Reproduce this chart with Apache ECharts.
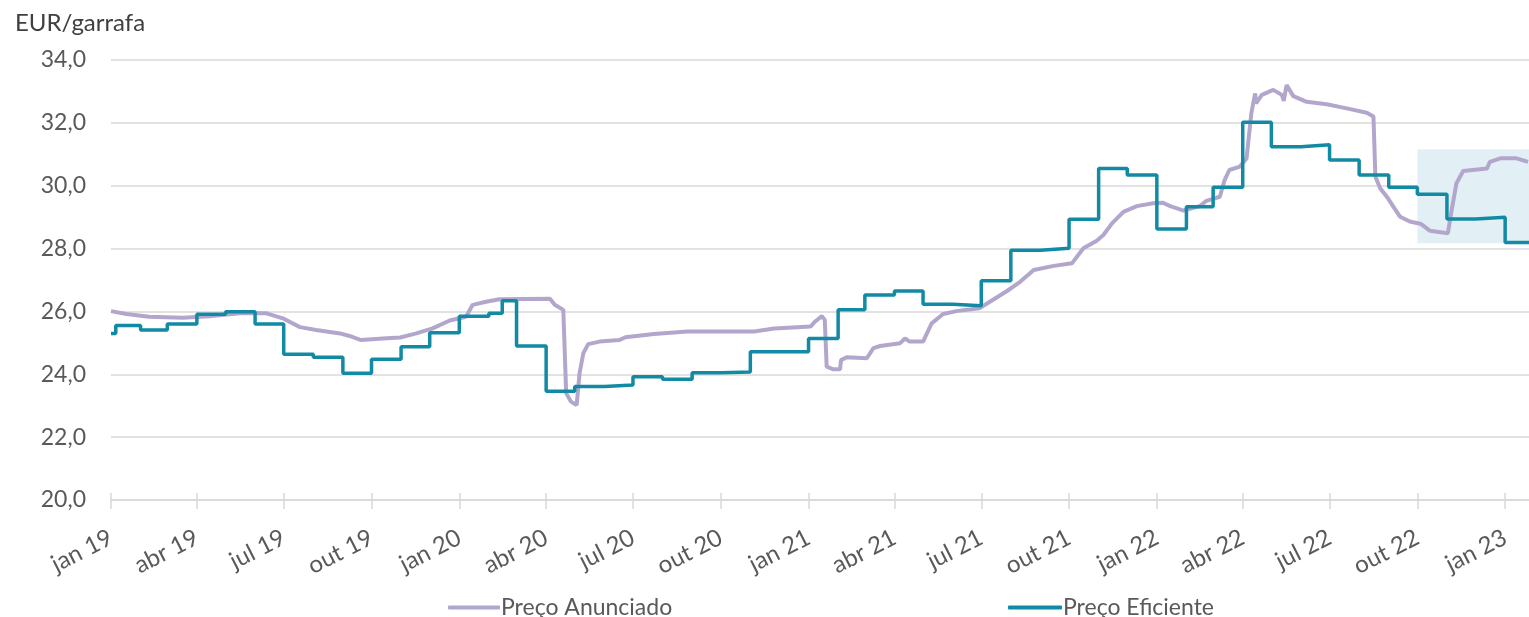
<!DOCTYPE html>
<html>
<head>
<meta charset="utf-8">
<script src="https://cdn.jsdelivr.net/npm/echarts@6/dist/echarts.min.js"></script>
<style>
html,body{margin:0;padding:0;background:#fff;}
#chart{width:1529px;height:617px;}
</style>
</head>
<body>
<div id="chart"></div>
<script>
// ---- Data ----
const unitLabel = 'EUR/garrafa';
const seriesNames = ['Preço Anunciado', 'Preço Eficiente'];

const anunciadoDates = ['2019-01-01','2019-01-17','2019-02-10','2019-03-17','2019-04-14','2019-05-16','2019-06-13','2019-06-30','2019-07-18','2019-08-04','2019-08-29','2019-09-08','2019-09-20','2019-10-13','2019-10-31','2019-11-17','2019-12-04','2019-12-22','2020-01-08','2020-01-15','2020-01-29','2020-02-12','2020-04-05','2020-04-10','2020-04-19','2020-04-22','2020-04-27','2020-05-03','2020-05-06','2020-05-10','2020-05-15','2020-05-27','2020-06-17','2020-06-23','2020-07-23','2020-08-27','2020-10-15','2020-11-05','2020-11-26','2021-01-03','2021-01-08','2021-01-15','2021-01-18','2021-01-20','2021-01-27','2021-02-03','2021-02-04','2021-02-10','2021-03-03','2021-03-10','2021-03-17','2021-04-07','2021-04-12','2021-04-17','2021-05-01','2021-05-10','2021-05-22','2021-06-05','2021-06-29','2021-07-10','2021-07-28','2021-08-11','2021-08-25','2021-09-15','2021-10-04','2021-10-16','2021-10-30','2021-11-06','2021-11-15','2021-11-27','2021-12-11','2021-12-28','2022-01-07','2022-01-15','2022-01-29','2022-02-15','2022-02-22','2022-03-08','2022-03-13','2022-03-18','2022-03-29','2022-04-05','2022-04-10','2022-04-14','2022-04-15','2022-04-21','2022-05-03','2022-05-12','2022-05-14','2022-05-17','2022-05-24','2022-06-07','2022-06-28','2022-07-19','2022-08-09','2022-08-16','2022-08-18','2022-08-23','2022-08-30','2022-09-06','2022-09-13','2022-09-23','2022-10-05','2022-10-14','2022-11-02','2022-11-06','2022-11-11','2022-11-18','2022-12-13','2022-12-16','2022-12-27','2023-01-13','2023-01-25'];
const anunciadoValues = [26.01,25.92,25.83,25.80,25.85,25.94,25.94,25.78,25.50,25.41,25.30,25.22,25.09,25.14,25.17,25.30,25.46,25.71,25.83,26.21,26.31,26.39,26.40,26.21,26.05,23.40,23.13,23.02,24.03,24.67,24.96,25.04,25.09,25.18,25.28,25.36,25.36,25.36,25.46,25.52,25.68,25.85,25.73,24.24,24.16,24.16,24.45,24.54,24.51,24.83,24.90,24.99,25.14,25.04,25.04,25.62,25.92,26.01,26.10,26.31,26.65,26.95,27.32,27.45,27.53,28.01,28.25,28.43,28.80,29.17,29.35,29.44,29.46,29.35,29.21,29.35,29.52,29.65,30.18,30.50,30.61,30.87,32.30,32.94,32.62,32.89,33.05,32.89,32.70,33.20,32.85,32.67,32.59,32.46,32.32,32.20,30.29,29.92,29.65,29.33,29.01,28.86,28.78,28.57,28.49,29.23,30.08,30.47,30.55,30.76,30.87,30.87,30.76];

const eficienteDates = ['2019-01-01','2019-01-06','2019-02-01','2019-03-01','2019-04-01','2019-05-01','2019-06-01','2019-07-01','2019-08-01','2019-09-01','2019-10-01','2019-11-01','2019-12-01','2020-01-01','2020-02-01','2020-02-15','2020-03-01','2020-04-01','2020-05-01','2020-06-01','2020-07-01','2020-08-01','2020-09-01','2020-10-01','2020-11-01','2020-12-01','2021-01-01','2021-02-01','2021-03-01','2021-04-01','2021-05-01','2021-06-01','2021-07-01','2021-08-01','2021-09-01','2021-10-01','2021-11-01','2021-12-01','2022-01-01','2022-02-01','2022-03-01','2022-04-01','2022-05-01','2022-06-01','2022-07-01','2022-08-01','2022-09-01','2022-10-01','2022-11-01','2022-12-01','2023-01-01','2023-01-26'];
const eficienteValues = [25.30,25.55,25.41,25.60,25.91,25.99,25.60,24.64,24.54,24.03,24.48,24.88,25.32,25.85,25.94,26.34,24.90,23.46,23.61,23.66,23.92,23.84,24.05,24.07,24.72,24.72,25.14,26.05,26.52,26.65,26.23,26.18,26.98,27.95,28.01,28.93,30.55,30.34,28.62,29.33,29.95,32.02,31.24,31.30,30.82,30.34,29.95,29.73,28.94,29.00,28.19,28.19];

const tickDates = ['2019-01-01','2019-04-01','2019-07-01','2019-10-01','2020-01-01','2020-04-01','2020-07-01','2020-10-01','2021-01-01','2021-04-01','2021-07-01','2021-10-01','2022-01-01','2022-04-01','2022-07-01','2022-10-01','2023-01-01'];
const tickLabels = ['jan 19','abr 19','jul 19','out 19','jan 20','abr 20','jul 20','out 20','jan 21','abr 21','jul 21','out 21','jan 22','abr 22','jul 22','out 22','jan 23'];

const xStart = '2019-01-01';
const xEnd = '2023-01-26';
const yMin = 20, yMax = 34, yStep = 2;

const highlightX = ['2022-10-01', '2023-01-26'];
const highlightY = [28.17, 31.16];

// ---- Build ----
const ts = d => new Date(d + 'T00:00:00Z').getTime();
const tickTs = tickDates.map(ts);
const labelMap = {};
tickTs.forEach((t, i) => labelMap[t] = tickLabels[i]);

const anunciado = anunciadoDates.map((d, i) => [ts(d), anunciadoValues[i]]);
const eficiente = eficienteDates.map((d, i) => [ts(d), eficienteValues[i]]);

const FONT = 'Lato, "Open Sans", sans-serif';
const C_PURPLE = '#b3a6cd';
const C_TEAL = '#138aa4';

const chart = echarts.init(document.getElementById('chart'), null, {renderer: 'canvas'});
const xCommon = {
  type: 'value',
  min: ts(xStart),
  max: ts(xEnd),
  splitLine: {show: false}
};
chart.setOption({
  animation: false,
  backgroundColor: '#ffffff',
  title: {
    text: unitLabel,
    left: 10, top: 6,
    textStyle: {fontFamily: FONT, fontSize: 24, fontWeight: 'normal', color: '#404040'}
  },
  grid: {left: 111, right: 0, top: 60, bottom: 117, containLabel: false},
  legend: [
    {
      data: [seriesNames[0]],
      left: 443, top: 591,
      icon: 'roundRect', itemWidth: 52, itemHeight: 4, itemGap: 0,
      textStyle: {fontFamily: FONT, fontSize: 23, color: '#595959', padding: [0,0,0,-4]}
    },
    {
      data: [seriesNames[1]],
      left: 1003, top: 591,
      icon: 'roundRect', itemWidth: 54, itemHeight: 4, itemGap: 0,
      textStyle: {fontFamily: FONT, fontSize: 23, color: '#595959', padding: [0,0,0,-4]}
    }
  ],
  xAxis: [
    Object.assign({}, xCommon, {
      axisLine: {show: true, lineStyle: {color: '#d9d9d9', width: 1.5}},
      axisTick: {show: true, customValues: tickTs, length: 9, lineStyle: {color: '#d9d9d9', width: 1.5}},
      axisLabel: {
        customValues: tickTs,
        rotate: 27,
        margin: 36,
        fontFamily: FONT, fontSize: 24, color: '#595959',
        formatter: v => labelMap[v] || ''
      }
    }),
    Object.assign({}, xCommon, {
      position: 'bottom',
      axisLine: {show: false},
      axisTick: {show: true, inside: true, customValues: tickTs, length: 7, lineStyle: {color: '#d9d9d9', width: 1.5}},
      axisLabel: {show: false}
    })
  ],
  yAxis: {
    type: 'value',
    min: yMin, max: yMax, interval: yStep,
    axisLine: {show: false},
    axisTick: {show: false},
    splitLine: {lineStyle: {color: '#d9d9d9', width: 1.5}},
    axisLabel: {
      margin: 25,
      fontFamily: FONT, fontSize: 23, color: '#595959',
      formatter: v => v.toFixed(1).replace('.', ',')
    }
  },
  series: [
    {
      name: 'highlight',
      type: 'line',
      data: [],
      z: 0,
      silent: true,
      markArea: {
        silent: true,
        itemStyle: {color: '#e2f0f5'},
        data: [[{xAxis: ts(highlightX[0]), yAxis: highlightY[0]}, {xAxis: ts(highlightX[1]), yAxis: highlightY[1]}]]
      }
    },
    {
      name: seriesNames[0],
      type: 'line',
      data: anunciado,
      showSymbol: false,
      symbol: 'none',
      smooth: false,
      z: 3,
      color: C_PURPLE,
      lineStyle: {color: C_PURPLE, width: 4}
    },
    {
      name: seriesNames[1],
      type: 'line',
      data: eficiente,
      step: 'end',
      showSymbol: false,
      symbol: 'none',
      z: 4,
      color: C_TEAL,
      lineStyle: {color: C_TEAL, width: 3.5}
    }
  ]
});
</script>
</body>
</html>
